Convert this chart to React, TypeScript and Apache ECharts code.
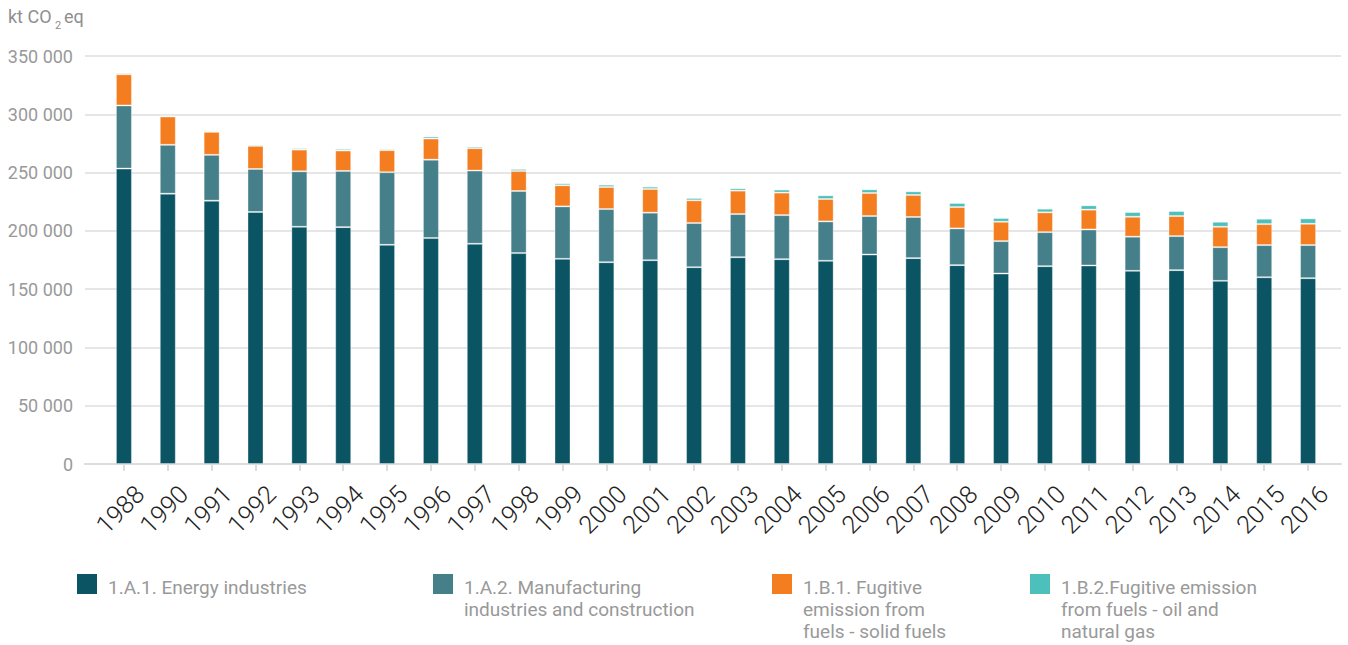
import React, { useEffect, useRef } from "react";
import * as echarts from "echarts";

const years = ["1988", "1990", "1991", "1992", "1993", "1994", "1995", "1996", "1997", "1998", "1999", "2000", "2001", "2002", "2003", "2004", "2005", "2006", "2007", "2008", "2009", "2010", "2011", "2012", "2013", "2014", "2015", "2016"];

const energyIndustries = [253400, 231900, 225900, 216200, 203500, 203200, 188000, 193800, 188900, 180900, 176000, 173100, 174800, 168800, 177400, 175700, 174300, 179700, 176600, 170600, 163400, 169700, 170300, 165700, 166300, 157100, 160200, 159400];
const manufacturing = [54200, 41900, 39300, 36900, 47600, 48200, 62300, 67300, 62800, 53300, 45000, 45600, 40800, 37900, 37000, 37800, 33800, 33000, 35300, 31500, 27800, 29200, 30900, 29300, 29200, 28900, 27600, 28400];
const solidFuels = [26700, 24300, 19700, 19800, 18600, 17500, 18900, 18100, 19200, 17200, 18100, 18900, 20300, 19500, 20100, 19300, 19200, 19800, 18900, 18300, 16600, 17000, 17000, 17100, 17200, 17500, 18000, 18300];
const oilGas = [1100, 900, 900, 1100, 1200, 1400, 1100, 1700, 1400, 1700, 1700, 2000, 2000, 2000, 2000, 2600, 3200, 3100, 3100, 3500, 3200, 3100, 3700, 4000, 4300, 4300, 4600, 4600];

const seriesNames = [
  "1.A.1. Energy industries",
  "1.A.2. Manufacturing industries and construction",
  "1.B.1. Fugitive emission from fuels - solid fuels",
  "1.B.2.Fugitive emission from fuels - oil and natural gas",
];
const legendLabels = [
  "1.A.1. Energy industries",
  "1.A.2. Manufacturing\nindustries and construction",
  "1.B.1. Fugitive\nemission from\nfuels - solid fuels",
  "1.B.2.Fugitive emission\nfrom fuels - oil and\nnatural gas",
];
const colors = ["#0a5464", "#457f8a", "#f47d20", "#4dc0bb"];
const yTicks = { min: 0, max: 350000, interval: 50000 };

const legendX = [77, 433, 772, 1030];

export default function App() {
  const ref = useRef<HTMLDivElement>(null);
  useEffect(() => {
    if (!ref.current) return;
    const chart = echarts.init(ref.current, null, { renderer: "svg" });
    const values = [energyIndustries, manufacturing, solidFuels, oilGas];
    const top = 56;
    const bottom = 181;
    const font = "Roboto, 'Noto Sans', sans-serif";
    const graphics: any[] = [
      { type: "text", left: 8, top: 7, style: { text: "kt CO", fontSize: 18, fontFamily: font, fill: "#8f8f8f" } },
      { type: "text", left: 55, top: 20, style: { text: "2", fontSize: 11, fontFamily: font, fill: "#8f8f8f" } },
      { type: "text", left: 64, top: 7, style: { text: "eq", fontSize: 18, fontFamily: font, fill: "#8f8f8f" } },
    ];
    legendLabels.forEach((lab, i) => {
      graphics.push({ type: "rect", shape: { x: legendX[i], y: 574, width: 20, height: 20 }, style: { fill: colors[i] } });
      graphics.push({
        type: "text",
        x: legendX[i] + 31,
        y: 576,
        style: { text: lab, fontSize: 19, lineHeight: 22, fontFamily: font, fill: "#999999", verticalAlign: "top" },
      });
    });
    chart.setOption({
      animation: false,
      grid: [
        { left: 85, right: 7, top, bottom },
        { left: 102, right: 18, top, bottom },
        { left: 118, right: 2, top, bottom },
      ],
      xAxis: [
        {
          gridIndex: 0, type: "category", data: [""],
          axisLine: { show: true, lineStyle: { color: "#dddddd", width: 2 } },
          axisTick: { show: false }, axisLabel: { show: false },
        },
        {
          gridIndex: 1, type: "category", data: years,
          axisLine: { show: false },
          axisTick: { show: true, alignWithLabel: true, length: 7, lineStyle: { color: "#dddddd", width: 2 } },
          axisLabel: { show: false },
        },
        {
          gridIndex: 2, type: "category", data: years,
          axisLine: { show: false }, axisTick: { show: false },
          axisLabel: { show: true, interval: 0, rotate: 45, margin: 26, fontSize: 25, fontWeight: 300, color: "#222222", fontFamily: font },
        },
      ],
      yAxis: [
        {
          gridIndex: 0, type: "value", ...yTicks,
          axisLine: { show: false }, axisTick: { show: false },
          splitLine: { show: true, lineStyle: { color: "#dedede", width: 1.5 } },
          axisLabel: {
            margin: 12, fontSize: 18, color: "#999999", fontFamily: font,
            formatter: (v: number) => String(v).replace(/\B(?=(\d{3})+(?!\d))/g, " "),
          },
        },
        { gridIndex: 1, type: "value", ...yTicks, show: false, splitLine: { show: false } },
        { gridIndex: 2, type: "value", ...yTicks, show: false, splitLine: { show: false } },
      ],
      series: seriesNames.map((name, i) => ({
        name,
        type: "bar",
        stack: "total",
        xAxisIndex: 1,
        yAxisIndex: 1,
        barWidth: 16,
        data: values[i],
        itemStyle: { color: colors[i], borderColor: "rgba(255,255,255,0.35)", borderWidth: 1 },
      })),
      graphic: graphics,
    });
    return () => chart.dispose();
  }, []);
  return <div ref={ref} style={{ position: "absolute", left: 0, top: 0, width: 1348, height: 645 }} />;
}
